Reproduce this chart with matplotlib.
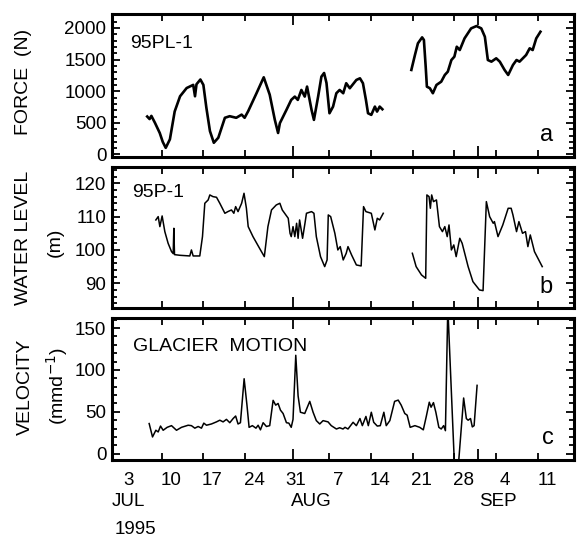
import matplotlib
matplotlib.use('Agg')
import matplotlib.pyplot as plt
from matplotlib.ticker import MultipleLocator, FixedLocator

plt.rcParams['font.family'] = ['Liberation Sans', 'DejaVu Sans']

# time axis: day counted from 30 June 1995 (Jul 1 = 1, Aug 1 = 32, Sep 1 = 63)
week_days = [3, 10, 17, 24, 31, 38, 45, 52, 59, 66, 73]
week_labels = ['3', '10', '17', '24', '31', '7', '14', '21', '28', '4', '11']
tick_days = [10, 17, 24, 38, 45, 52, 59, 66, 73]
month_days = [32, 63]
month_names = ['JUL', 'AUG', 'SEP']

# (a) 95PL-1 force (N), two records
force_t1 = [7.6, 8.0, 8.3, 8.9, 9.7, 10.2, 10.7, 11.4, 12.2, 13.1, 14.2, 15.3, 15.6, 15.85,
            16.5, 17.0, 17.5, 18.1, 18.75, 19.5, 20.6, 21.4, 22.5, 23.4, 23.9, 24.5, 25.9,
            27.1, 28.1, 28.95, 29.5, 29.8, 30.9, 31.7, 32.3, 32.8, 33.4, 33.96, 34.35, 35.1,
            35.5, 36.2, 36.75, 37.2, 37.6, 38.1, 38.7, 39.25, 39.8, 40.4, 40.9, 41.5, 42.6,
            43.2, 43.7, 44.2, 44.55, 45.1, 45.7, 46.06, 46.5, 46.95]
force_v1 = [600, 560, 610, 500, 340, 200, 105, 240, 680, 920, 1050, 1100, 920, 1110,
            1185, 1100, 740, 370, 185, 265, 580, 605, 580, 630, 580, 685, 970,
            1220, 945, 550, 340, 495, 705, 863, 915, 863, 1020, 915, 1073, 705,
            547, 915, 1230, 1288, 1130, 652, 757, 968, 1020, 968, 1126, 1047, 1178,
            1204, 1126, 863, 652, 626, 757, 678, 757, 715]
force_t2 = [51.8, 52.4, 52.9, 53.6, 53.9, 54.2, 54.4, 54.9, 55.4, 56.0, 56.8, 57.4, 57.9,
            58.5, 59.0, 59.4, 59.9, 60.7, 61.8, 62.7, 63.5, 64.1, 64.6, 65.2, 66.0, 66.6,
            67.4, 68.0, 68.8, 69.4, 69.9, 71.0, 71.6, 72.1, 72.7, 73.4]
force_v2 = [1336, 1572, 1757, 1851, 1810, 1388, 1072, 1047, 968, 1099, 1151, 1257, 1309,
            1493, 1546, 1703, 1651, 1835, 1993, 2030, 1993, 1861, 1493, 1467, 1520, 1467,
            1336, 1257, 1414, 1493, 1467, 1572, 1678, 1651, 1835, 1940]

# (b) 95P-1 water level (m), two records
water_t1 = [9.05, 9.44, 9.72, 10.1, 10.55, 11.1, 11.67, 11.95, 12.06, 12.17, 13.06, 14.73,
            15.0, 15.29, 16.4, 16.85, 17.24, 17.8, 18.08, 18.6, 19.2, 19.75, 20.6, 21.1,
            21.7, 22.1, 22.4, 22.8, 23.4, 23.8, 24.2, 24.5, 25.3, 26.4, 27.2, 27.8, 28.4,
            29.2, 29.8, 30.2, 30.6, 31.2, 31.5, 31.7, 32.0, 32.3, 32.6, 32.85, 33.1, 33.6,
            34.0, 34.25, 35.1, 35.5, 35.9, 36.6, 37.3, 37.7, 37.9, 38.3, 39.0, 39.5, 39.9,
            40.4, 40.9, 41.2, 41.8, 42.6, 43.4, 43.8, 44.2, 45.1, 45.7, 46.1, 46.5, 47.1]
water_v1 = [109, 110, 107, 110.2, 105.5, 102, 99.5, 98.9, 106.5, 98.6, 98.4, 98.2,
            100, 98.2, 98.2, 104, 114, 115, 116.5, 116, 115.8, 114, 111, 111.5,
            112, 111, 113, 111.5, 114, 117, 112.5, 107, 104, 100.5, 98, 107, 112,
            113.5, 114, 112, 111, 109.5, 105, 104, 107, 104, 108, 103.5, 109, 103.5,
            108, 111, 111.5, 111, 104, 98, 95, 97, 110.5, 110, 105, 100, 101,
            97, 99, 101, 98.5, 95.5, 95.2, 113, 111.5, 111, 106, 109.5, 109, 111]
water_t2 = [51.97, 52.6, 53.5, 54.2, 54.4, 54.76, 54.98, 55.2, 55.5, 56.0, 56.5, 57.0,
            57.4, 57.8, 58.1, 58.5, 58.9, 59.3, 59.9, 60.3, 61.3, 62.1, 63.2, 63.8, 64.35,
            64.9, 65.5, 65.7, 66.3, 67.1, 68.0, 68.5, 68.8, 69.4, 69.8, 70.4, 70.9, 71.3,
            71.7, 72.4, 73.7]
water_v2 = [99, 95, 92.5, 91.5, 116.5, 116, 112.5, 116.5, 114.5, 115, 107, 105.5,
            107, 104, 107.5, 100, 101.5, 98, 103.5, 102, 95, 90.5, 88, 87.8, 114.5,
            110, 108, 108.5, 104, 107.5, 112.5, 112.5, 110.5, 105.5, 108.5, 105, 105.5, 101,
            104.5, 99.5, 95]

# (c) glacier motion velocity (mm d-1)
vel_t = [7.93, 8.49, 9.05, 9.44, 9.83, 10.27, 10.94, 11.67, 12.5, 13.34, 14.45, 15.0,
         15.57, 16.13, 16.68, 17.07, 17.52, 18.35, 19.19, 19.75, 20.3, 20.86, 21.42, 21.98,
         22.4, 22.8, 23.2, 23.82, 24.3, 24.65, 25.2, 25.8, 26.16, 26.55, 27.0, 27.55, 28.1,
         28.67, 29.1, 29.5, 29.9, 30.34, 30.9, 31.3, 31.7, 32.0, 32.46, 32.85, 33.24, 33.96,
         34.8, 35.36, 35.9, 36.47, 37.03, 37.86, 38.4, 39.26, 39.8, 40.37, 40.7, 41.2, 42.05,
         42.6, 43.2, 43.6, 44.2, 44.6, 45.1, 45.5, 46.1, 46.6, 47.2, 47.6, 48.2, 49.0, 49.6,
         50.1, 50.7, 51.1, 51.6, 52.4, 53.2, 53.8, 54.3, 54.8, 55.1, 55.5, 55.9, 56.4, 56.8,
         57.2, 57.5, 57.9, 59.05, 59.6, 60.55, 61.0, 61.3, 61.7, 62.0, 62.3, 62.8]
vel_v = [36, 20, 28, 26, 33, 28, 31.5, 33.5, 28, 31.5, 34, 33.5,
         30.5, 32.5, 30.5, 36.5, 34, 35.5, 38, 40, 38, 41, 37, 42,
         45, 35.5, 37, 89.5, 57.5, 31.5, 33.5, 30.5, 34, 28.5, 37, 32.5, 33.5,
         63.7, 58, 60, 52, 48, 37, 36.5, 31.5, 41, 117.5, 69, 49.5, 48,
         62.5, 49.5, 39.5, 35.5, 39.5, 38, 33.5, 29.5, 31, 29.5, 31.5, 29.5, 37.5,
         33.5, 42, 33.5, 44.5, 33.5, 49.5, 37.5, 33, 33.5, 49.5, 33.5, 39.5, 62.5, 64,
         58, 48, 46, 31.5, 33.5, 31.5, 28.5, 44.5, 61.5, 55.5, 61, 49.5, 31.5, 29.5,
         33.5, 27.5, 175, -20, -20, 66.5, 42, 40, 42, 32, 33.5, 81.6]

fig = plt.figure(figsize=(5.83, 5.37), dpi=100)
ax_a = fig.add_axes([0.192, 0.7076, 0.7924, 0.2663])
ax_b = fig.add_axes([0.192, 0.4259, 0.7924, 0.2626])
ax_c = fig.add_axes([0.192, 0.1434, 0.7924, 0.2644])


def style(ax, ylim, major, minor):
    ax.set_xlim(1.7, 79)
    ax.set_ylim(*ylim)
    ax.xaxis.set_major_locator(FixedLocator(month_days))
    ax.xaxis.set_minor_locator(FixedLocator(tick_days))
    ax.yaxis.set_major_locator(MultipleLocator(major))
    ax.yaxis.set_minor_locator(MultipleLocator(minor))
    ax.tick_params(which='both', direction='in', top=True, right=True, width=1.3,
                   labelbottom=False)
    ax.tick_params(axis='x', which='major', length=8)
    ax.tick_params(axis='x', which='minor', length=5)
    ax.tick_params(axis='y', which='major', length=6, labelsize=13.5, pad=4)
    ax.tick_params(axis='y', which='minor', length=3.5)
    for s in ax.spines.values():
        s.set_linewidth(2.2)


# panel a
ax_a.plot(force_t1, force_v1, color='black', lw=1.9)
ax_a.plot(force_t2, force_v2, color='black', lw=1.9)
style(ax_a, (-40, 2220), 500, 100)
ax_a.text(0.040, 0.762, '95PL-1', transform=ax_a.transAxes, fontsize=14)
ax_a.text(0.926, 0.11, 'a', transform=ax_a.transAxes, fontsize=17)

# panel b
ax_b.plot(water_t1, water_v1, color='black', lw=1.1)
ax_b.plot(water_t2, water_v2, color='black', lw=1.1)
style(ax_b, (82.5, 124.8), 10, 2)
ax_b.text(0.043, 0.791, '95P-1', transform=ax_b.transAxes, fontsize=14)
ax_b.text(0.926, 0.106, 'b', transform=ax_b.transAxes, fontsize=17)

# panel c
ax_c.plot(vel_t, vel_v, color='black', lw=1.1)
style(ax_c, (-7.5, 162), 50, 10)
ax_c.text(0.045, 0.765, 'GLACIER  MOTION', transform=ax_c.transAxes, fontsize=14)
ax_c.text(0.93, 0.115, 'c', transform=ax_c.transAxes, fontsize=17)

for d, lab in zip(week_days, week_labels):
    ax_c.annotate(lab, xy=(d, 0), xycoords=('data', 'axes fraction'), xytext=(6.5, -9),
                  textcoords='offset points', ha='center', va='top', fontsize=13.5)
for d, lab in zip([3, 33.6, 64.7], month_names):
    ax_c.annotate(lab, xy=(d, 0), xycoords=('data', 'axes fraction'), xytext=(6.5, -24),
                  textcoords='offset points', ha='center', va='top', fontsize=13.5)
ax_c.annotate('1995', xy=(3, 0), xycoords=('data', 'axes fraction'), xytext=(11, -44),
              textcoords='offset points', ha='center', va='top', fontsize=13.5)

# axis titles
fig.text(0.041, 0.847, 'FORCE  (N)', rotation=90, ha='center', va='center', fontsize=14)
fig.text(0.041, 0.557, 'WATER LEVEL', rotation=90, ha='center', va='center', fontsize=14)
fig.text(0.094, 0.549, '(m)', rotation=90, ha='center', va='center', fontsize=14)
fig.text(0.043, 0.279, 'VELOCITY', rotation=90, ha='center', va='center', fontsize=14)
fig.text(0.098, 0.281, '(mmd$^{-1}$)', rotation=90, ha='center', va='center', fontsize=14)

fig.savefig('out.png', dpi=100)
